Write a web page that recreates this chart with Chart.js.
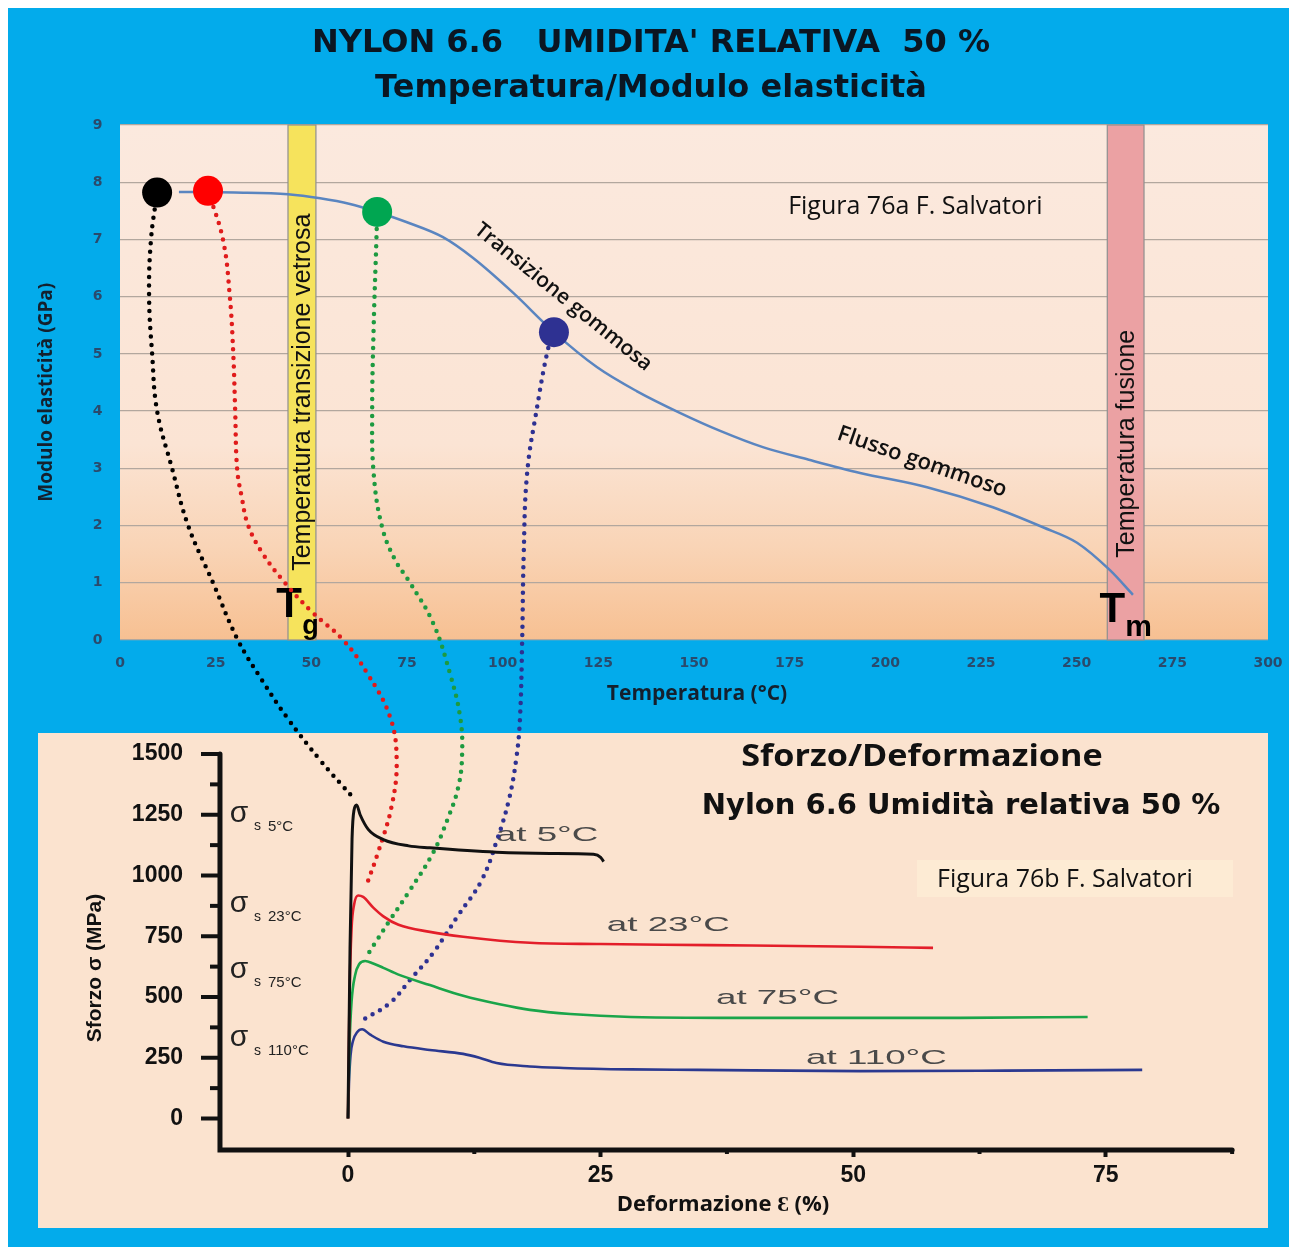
<!DOCTYPE html>
<html>
<head>
<meta charset="utf-8">
<script src="https://cdn.jsdelivr.net/npm/chart.js@4.4.1/dist/chart.umd.min.js"></script>
<style>
  html, body { margin: 0; padding: 0; background: #fff; }
  #wrap { width: 1289px; height: 1247px; position: relative; }
</style>
</head>
<body>
<div id="wrap"><canvas id="chart" width="1289" height="1247"></canvas></div>
<script>
// ---- grafico superiore: Temperatura / Modulo elasticita'
var tempTicks = [0, 25, 50, 75, 100, 125, 150, 175, 200, 225, 250, 275, 300];
var modTicks = [0, 1, 2, 3, 4, 5, 6, 7, 8, 9];

var modTemp = [15.4, 30, 43.9, 52.3, 60.1, 67.2, 75, 84.4, 92.2, 102.7, 113.4, 124.6, 135, 146.3, 157, 168, 180, 193.4, 210.9, 228.1, 241.2, 250.1, 258.7, 264.7];
var modValue = [7.83, 7.82, 7.79, 7.72, 7.62, 7.48, 7.3, 7.04, 6.68, 6.07, 5.38, 4.77, 4.35, 3.97, 3.65, 3.37, 3.15, 2.92, 2.67, 2.32, 1.97, 1.70, 1.22, 0.79];

var markerTemp = [9.7, 23, 67.2, 113.4];
var markerMod = [7.82, 7.85, 7.48, 5.38];
var markerColors = ['#000000', '#ff0000', '#00a651', '#2e3192'];

// collegamenti tratteggiati (in unita' del grafico superiore)
var linkBlackT = [9.7, 8.1, 7.6, 8.4, 9.7, 13.6, 17.8, 24.3, 30.8, 37.1, 43.6, 52.3, 61.0];
var linkBlackE = [7.82, 7, 6, 5, 4, 3, 2, 1, 0, -0.70, -1.35, -2.10, -2.76];
var linkRedT = [23.0, 26.9, 28.7, 29.6, 30.1, 30.6, 31.8, 33.5, 37.4, 43.1, 50.0, 58.3, 64.6, 70.6, 72.3, 71.0, 67.4, 64.6];
var linkRedE = [7.85, 7, 6, 5, 4, 3, 2.5, 2, 1.5, 1, 0.5, 0, -0.58, -1.35, -2.1, -2.9, -3.72, -4.25];
var linkGreenT = [67.2, 67.0, 66.3, 65.9, 66.3, 68.5, 71.9, 75.8, 81.8, 86.2, 88.9, 89.4, 88.4, 85.5, 81.8, 75.8, 70.6, 67.2, 64.2];
var linkGreenE = [7.48, 6.99, 5.5, 4.0, 2.9, 1.97, 1.40, 1.00, 0.30, -0.58, -1.35, -2.0, -2.57, -3.15, -3.72, -4.37, -4.89, -5.24, -5.55];
var linkNavyT = [113.4, 111.8, 109.0, 106.4, 105.5, 105.1, 104.5, 103.5, 101.6, 98.5, 94.5, 88.5, 81.8, 75.8, 70.6, 64.0];
var linkNavyE = [5.38, 5.07, 4.07, 2.92, 1.5, 0, -1.40, -2.1, -2.8, -3.5, -4.2, -4.8, -5.47, -5.94, -6.34, -6.62];

// ---- grafico inferiore: Sforzo / Deformazione
var strainTicks = [0, 25, 50, 75];
var strainMinor = [12.5, 37.5, 62.5, 87.5];
var stressTicks = [0, 250, 500, 750, 1000, 1250, 1500];
var stressMinor = [125, 375, 625, 875, 1125, 1375];

var strain5C = [0, 0.2, 0.4, 0.6, 0.85, 1.2, 2, 3.5, 6, 8.1, 14.7, 20, 24.3, 25, 25.3];
var stress5C = [0, 700, 1150, 1270, 1290, 1250, 1190, 1148, 1122, 1114, 1096, 1091, 1087, 1075, 1057];
var strain23C = [0, 0.15, 0.35, 0.6, 1.0, 1.5, 2.5, 3.5, 5, 8.1, 11.4, 18, 25, 31.2, 40, 50.7, 57.9];
var stress23C = [0, 500, 780, 880, 918, 912, 868, 832, 797, 768, 748, 723, 718, 715, 712, 707, 702];
var strain75C = [0, 0.15, 0.35, 0.7, 1.1, 1.7, 2.5, 3.5, 5, 8.1, 11.4, 15, 18, 22, 28, 41, 50.7, 60.6, 73.2];
var stress75C = [0, 300, 480, 590, 635, 648, 638, 620, 592, 549, 505, 470, 447, 430, 418, 414, 414, 414, 418];
var strain110C = [0, 0.1, 0.25, 0.5, 0.9, 1.4, 2.2, 3.5, 5.5, 8.1, 11.4, 13, 14.7, 18, 21.3, 28, 34.6, 50.7, 65, 78.6];
var stress110C = [0, 150, 260, 320, 355, 367, 345, 316, 297, 282, 266, 250, 228, 214, 208, 202, 200, 195, 197, 200];

var curveNames = ['at 5°C', 'at 23°C', 'at 75°C', 'at 110°C'];
var curveTemps = ['5°C', '23°C', '75°C', '110°C'];
var curveColors = ['#111111', '#e31e2a', '#1aa54a', '#2b3990'];
var curveLabelStrain = [19.7, 31.7, 42.5, 52.3];
var curveLabelStress = [1167, 797, 496, 249];

// posizione degli assi del grafico inferiore
var axisCrossStrain = -12.67;
var axisCrossStress = -129.6;

function pts(xs, ys) {
	return xs.map(function(v, i) { return { x: v, y: ys[i] }; });
}

function txt(ctx, str, x, y, font, color, align, angle, sx) {
	ctx.save();
	ctx.translate(x, y);
	if (angle) ctx.rotate(angle * Math.PI / 180);
	if (sx) ctx.scale(sx, 1);
	ctx.font = font;
	ctx.fillStyle = color;
	ctx.textAlign = align || 'center';
	ctx.textBaseline = 'middle';
	ctx.fillText(str, 0, 0);
	ctx.restore();
}

var decor = {
	id: 'decor',
	beforeDraw: function(chart) {
		var ctx = chart.ctx, s = chart.scales;
		ctx.save();
		ctx.fillStyle = '#ffffff';
		ctx.fillRect(0, 0, chart.width, chart.height);
		ctx.fillStyle = '#03abeb';
		ctx.fillRect(8, 8, chart.width - 8, chart.height - 8);

		txt(ctx, "NYLON 6.6   UMIDITA' RELATIVA  50 %", 651, 44, 'bold 32px "DejaVu Sans"', '#0b1622');
		txt(ctx, 'Temperatura/Modulo elasticità', 651, 89, 'bold 32px "DejaVu Sans"', '#0b1622');

		var l = s.x.getPixelForValue(0), r = s.x.getPixelForValue(300);
		var t = s.y.getPixelForValue(9), b = s.y.getPixelForValue(0);
		var g = ctx.createLinearGradient(0, t, 0, b);
		g.addColorStop(0, '#fbe9de');
		g.addColorStop(0.62, '#fbe4d4');
		g.addColorStop(0.82, '#f9d4b6');
		g.addColorStop(1, '#f7c092');
		ctx.fillStyle = g;
		ctx.fillRect(l, t, r - l, b - t);

		// riquadro inferiore
		ctx.fillStyle = '#fbe3cf';
		ctx.fillRect(38, 733, r - 38, 495);
		ctx.fillStyle = '#fdebd4';
		ctx.fillRect(917, 860, 316, 37);
		ctx.restore();
	},
	beforeDatasetsDraw: function(chart) {
		var ctx = chart.ctx, s = chart.scales;
		var X = function(v) { return s.x.getPixelForValue(v); };
		var Y = function(v) { return s.y.getPixelForValue(v); };
		ctx.save();

		// bande Tg e Tm
		var bands = [[43.9, 51.2, '#f6e35c', 'Temperatura transizione vetrosa', 4.33], [258, 267.6, '#eba1a3', 'Temperatura fusione', 3.43]];
		bands.forEach(function(bd) {
			var x1 = X(bd[0]), x2 = X(bd[1]), y1 = Y(9), y2 = Y(0);
			ctx.fillStyle = bd[2];
			ctx.fillRect(x1, y1, x2 - x1, y2 - y1);
			ctx.strokeStyle = '#8f8f8f';
			ctx.lineWidth = 1.2;
			ctx.strokeRect(x1, y1, x2 - x1, y2 - y1);
			txt(ctx, bd[3], (x1 + x2) / 2 + 1, Y(bd[4]), '25px "Liberation Sans"', '#111', 'center', -90);
		});

		txt(ctx, 'T', X(44.2), Y(0.61), 'bold 42px "Liberation Sans"', '#000');
		txt(ctx, 'g', X(49.8), Y(0.24), 'bold 27px "Liberation Sans"', '#000');
		txt(ctx, 'T', X(259.3), Y(0.52), 'bold 42px "Liberation Sans"', '#000');
		txt(ctx, 'm', X(266.2), Y(0.21), 'bold 30px "Liberation Sans"', '#000');

		txt(ctx, 'Figura 76a F. Salvatori', X(174.6), Y(7.57), '25px "Open Sans"', '#111', 'left');
		txt(ctx, 'Transizione gommosa', X(115.8), Y(5.99), '600 21px "Open Sans"', '#111', 'center', 39);
		txt(ctx, 'Flusso gommoso', X(209.6), Y(3.11), '600 22px "Open Sans"', '#111', 'center', 19);

		txt(ctx, 'Modulo elasticità (GPa)', 47, Y(4.33), 'bold 19px "Open Sans"', '#14202e', 'center', -90);
		txt(ctx, 'Temperatura (°C)', 697, 694, 'bold 21px "Open Sans"', '#14202e');

		// assi del grafico inferiore
		var ax = s.x2.getPixelForValue(axisCrossStrain);
		var ay = s.y2.getPixelForValue(axisCrossStress);
		ctx.strokeStyle = '#111';
		ctx.lineWidth = 5;
		ctx.lineCap = 'round';
		ctx.beginPath();
		ctx.moveTo(ax, s.y2.getPixelForValue(1500));
		ctx.lineTo(ax, ay);
		ctx.lineTo(s.x2.getPixelForValue(87.5), ay);
		ctx.stroke();
		ctx.lineWidth = 4;
		ctx.lineCap = 'butt';
		stressTicks.forEach(function(v) {
			var py = s.y2.getPixelForValue(v);
			ctx.beginPath(); ctx.moveTo(ax - 19, py); ctx.lineTo(ax, py); ctx.stroke();
		});
		stressMinor.forEach(function(v) {
			var py = s.y2.getPixelForValue(v);
			ctx.beginPath(); ctx.moveTo(ax - 10, py); ctx.lineTo(ax, py); ctx.stroke();
		});
		strainMinor.forEach(function(v) {
			var px = s.x2.getPixelForValue(v);
			ctx.beginPath(); ctx.moveTo(px, ay); ctx.lineTo(px, ay + 4); ctx.stroke();
		});

		txt(ctx, 'Sforzo/Deformazione', 922, 757, 'bold 30px "Open Sans"', '#111', 'center', 0, 1.14);
		txt(ctx, 'Nylon 6.6 Umidità relativa 50 %', 961, 806, 'bold 29px "DejaVu Sans"', '#111');
		txt(ctx, 'Figura 76b F. Salvatori', 937, 880, '25px "Open Sans"', '#111', 'left');
		txt(ctx, 'Sforzo σ (MPa)', 95, 968, 'bold 21px "Liberation Sans"', '#111', 'center', -90);
		txt(ctx, 'Deformazione Ɛ (%)', 723, 1205, 'bold 22px "Open Sans"', '#111');

		// etichette delle curve
		var peaks = [stress5C, stress23C, stress75C, stress110C].map(function(a) { return Math.max.apply(null, a); });
		peaks.forEach(function(p, i) {
			var py = s.y2.getPixelForValue(p - 35);
			txt(ctx, 'σ', 239, py, '30px "Liberation Sans"', '#222');
			txt(ctx, 's', 254, py + 13, '14px "Liberation Sans"', '#222', 'left');
			txt(ctx, curveTemps[i], 268, py + 13, '15px "Liberation Sans"', '#222', 'left');
			txt(ctx, curveNames[i], s.x2.getPixelForValue(curveLabelStrain[i]), s.y2.getPixelForValue(curveLabelStress[i]),
				'21px "Liberation Sans"', '#4a4a4a', 'center', 0, 1.75);
		});
		ctx.restore();
	}
};

function dotted(xs, ys, color) {
	return { data: pts(xs, ys), showLine: true, borderColor: color, borderWidth: 4.5,
		borderDash: [0, 8.5], borderCapStyle: 'round', pointRadius: 0, tension: 0.4,
		xAxisID: 'x', yAxisID: 'y' };
}

function stress(xs, ys, color, w) {
	return { data: pts(xs, ys), showLine: true, borderColor: color, borderWidth: w,
		pointRadius: 0, cubicInterpolationMode: 'monotone', borderJoinStyle: 'round',
		xAxisID: 'x2', yAxisID: 'y2' };
}

function ticksFrom(list) {
	return function(axis) { axis.ticks = list.map(function(v) { return { value: v }; }); };
}

var datasets = [
	{ data: pts(markerTemp, markerMod), pointRadius: 15, pointBackgroundColor: markerColors,
		pointBorderColor: markerColors, pointBorderWidth: 0, xAxisID: 'x', yAxisID: 'y' },
	{ data: pts(modTemp, modValue), showLine: true, borderColor: '#5a85c0', borderWidth: 2.5,
		pointRadius: 0, cubicInterpolationMode: 'monotone', xAxisID: 'x', yAxisID: 'y' },
	stress(strain5C, stress5C, curveColors[0], 3),
	stress(strain23C, stress23C, curveColors[1], 2.6),
	stress(strain75C, stress75C, curveColors[2], 2.6),
	stress(strain110C, stress110C, curveColors[3], 2.6),
	dotted(linkBlackT, linkBlackE, '#000000'),
	dotted(linkRedT, linkRedE, '#e01b1b'),
	dotted(linkGreenT, linkGreenE, '#1d9a40'),
	dotted(linkNavyT, linkNavyE, '#2e3192')
];

var topTick = { family: 'DejaVu Sans', weight: 'bold', size: 14 };
var botTick = { family: 'Liberation Sans', weight: 'bold', size: 23 };

window.onload = function() {
	var ctx = document.getElementById('chart').getContext('2d');
	window.myChart = new Chart(ctx, {
		type: 'scatter',
		data: { datasets: datasets },
		plugins: [decor],
		options: {
			responsive: false,
			animation: false,
			events: [],
			layout: { padding: { left: 120, right: 21, top: 125, bottom: 92 } },
			plugins: {
				legend: { display: false },
				tooltip: { enabled: false },
				title: { display: false }
			},
			scales: {
				x: {
					type: 'linear', position: { y: -0.26 }, min: 0, max: 300,
					grid: { display: false, drawTicks: false }, border: { display: false },
					afterBuildTicks: ticksFrom(tempTicks),
					ticks: { padding: 0, color: '#2a4a6c', font: topTick, autoSkip: false, maxRotation: 0 }
				},
				y: {
					type: 'linear', position: { x: -4.6 }, min: -9, max: 9,
					grid: { color: '#b2a79e', lineWidth: 1.3, drawTicks: false }, border: { display: false },
					afterBuildTicks: ticksFrom(modTicks),
					ticks: { padding: 0, color: '#2a4a6c', font: topTick, autoSkip: false }
				},
				x2: {
					type: 'linear', position: { y2: axisCrossStress }, min: -22.565, max: 91.05,
					grid: { drawOnChartArea: false, tickLength: 7, tickWidth: 4, tickColor: '#111' },
					border: { display: false },
					afterBuildTicks: ticksFrom(strainTicks),
					ticks: { padding: 5, color: '#111', font: botTick, autoSkip: false, maxRotation: 0 }
				},
				y2: {
					type: 'linear', position: { x2: -16.33 }, min: -150.2, max: 4088.5,
					grid: { display: false, drawTicks: false },
					border: { display: false },
					afterBuildTicks: ticksFrom(stressTicks),
					ticks: { padding: 0, color: '#111', font: botTick, autoSkip: false,
						callback: function(v) { return String(v); } }
				}
			}
		}
	});
};
</script>
</body>
</html>
